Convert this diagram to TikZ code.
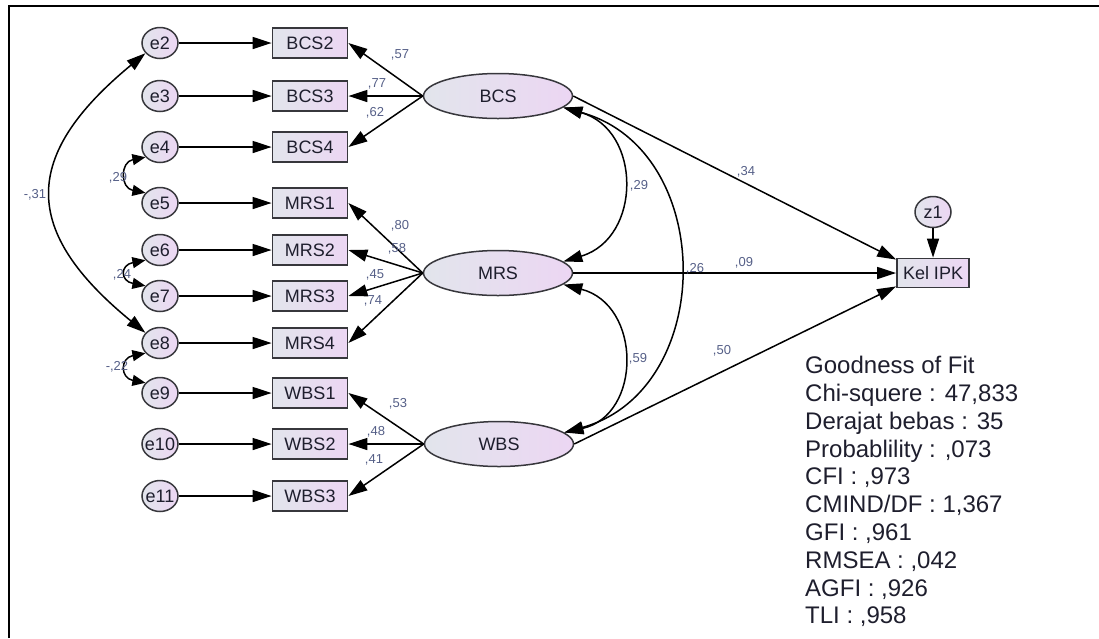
\documentclass[tikz,border=0pt]{standalone}
\usepackage{fontspec}
\setmainfont{Liberation Sans}
\usetikzlibrary{shapes, arrows, arrows.meta, calc, positioning}

\definecolor{fillleft}{RGB}{226,229,236}
\definecolor{fillright}{RGB}{236,214,243}
\definecolor{edgegray}{RGB}{55,55,60}
\definecolor{coefblue}{RGB}{85,95,135}
\definecolor{inktext}{RGB}{30,30,45}

\begin{document}
\begin{tikzpicture}[>={Triangle[length=19pt,width=12pt]}, x=1pt, y=-1pt]
	\tikzstyle{obs} = [draw=edgegray, line width=1.8pt, rectangle, minimum width=75pt, minimum height=30pt, inner sep=0pt, left color=fillleft, right color=fillright, text=inktext, font=\fontsize{18}{20}\selectfont]
	\tikzstyle{err} = [draw=edgegray, line width=1.5pt, ellipse, minimum width=36pt, minimum height=31pt, inner sep=-3pt, left color=fillleft, right color=fillright, text=inktext, font=\fontsize{18}{20}\selectfont]
	\tikzstyle{latent} = [draw=edgegray, line width=1.5pt, ellipse, minimum width=149pt, minimum height=45pt, left color=fillleft, right color=fillright, text=inktext, font=\fontsize{18}{20}\selectfont]
	\tikzstyle{coef} = [text=coefblue, font=\fontsize{13}{15}\selectfont, inner sep=1pt]
	\tikzstyle{link} = [line width=1.5pt, black]
	\tikzstyle{smallcov} = [line width=1.5pt, black, {Triangle[length=13pt,width=11pt]}-{Triangle[length=13pt,width=11pt]}]

	\useasboundingbox (0,0) rectangle (1099,638);
	\draw[line width=2pt] (9,638) -- (9,6) -- (1099,6);

	% indicators with their error terms
	\foreach \e/\v/\y in {2/BCS2/43, 3/BCS3/96, 4/BCS4/147, 5/MRS1/203, 6/MRS2/250, 7/MRS3/296, 8/MRS4/343, 9/WBS1/393, 10/WBS2/444, 11/WBS3/496}
	{
		\node[err] (e\e) at (160,\y) {e\e};
		\node[obs] (\v) at (310,\y) {\v};
		\draw[link, ->] (e\e) -- (\v);
	}

	% latent variables
	\node[latent] (BCS) at (498,96) {BCS};
	\node[latent] (MRS) at (498,273) {MRS};
	\node[latent] (WBS) at (499,444) {WBS};
	\node[obs, minimum width=72pt, minimum height=29pt] (KelIPK) at (933,273) {Kel IPK};
	\node[err] (z1) at (933,212) {z1};

	\foreach \v in {BCS2, BCS3, BCS4} \draw[link, ->] (BCS.west) -- (\v.east);
	\foreach \v in {MRS1, MRS2, MRS3, MRS4} \draw[link, ->] (MRS.west) -- (\v.east);
	\foreach \v in {WBS1, WBS2, WBS3} \draw[link, ->] (WBS.west) -- (\v.east);

	\draw[link, ->] (z1) -- (KelIPK);
	\draw[link, ->] (BCS.east) -- (KelIPK.160);
	\draw[link, ->] (MRS.east) -- (KelIPK.west);
	\draw[link, ->] (WBS.east) -- (KelIPK.200);

	% covariances
	\draw[link, <->] (e2.215) .. controls (21,156) and (21,231) .. (e8.145);
	\draw[smallcov] (e4.215) .. controls (120,162) and (120,188) .. (e5.145);
	\draw[smallcov] (e6.215) .. controls (120,265) and (120,281) .. (e7.145);
	\draw[smallcov] (e8.215) .. controls (120,358) and (120,378) .. (e9.145);
	\draw[link, <->] (BCS.-10) .. controls (642,130) and (642,238) .. (MRS.10);
	\draw[link, <->] (BCS.-10) .. controls (717,150) and (717,390) .. (WBS.10);
	\draw[link, <->] (MRS.-10) .. controls (642,305) and (642,415) .. (WBS.10);

	% estimates
	\node[coef] (c1) at (400,55) {,57};
	\node[coef] (c2) at (377,84) {,77};
	\node[coef] (c3) at (375,113) {,62};
	\node[coef] (c4) at (400,226) {,80};
	\node[coef] (c5) at (397,249) {,58};
	\node[coef] (c6) at (375,275) {,45};
	\node[coef] (c7) at (373,301) {,74};
	\node[coef] (c8) at (398,404) {,53};
	\node[coef] (c9) at (376,432) {,48};
	\node[coef] (c10) at (374,460) {,41};
	\node[coef] (r1) at (35,195) {-,31};
	\node[coef] (r2) at (118,178) {,29};
	\node[coef] (r3) at (122,275) {,24};
	\node[coef] (r4) at (117,367) {-,22};
	\node[coef] (r5) at (639,186) {,29};
	\node[coef] (r6) at (695,269) {,26};
	\node[coef] (r7) at (638,359) {,59};
	\node[coef] (b1) at (746,172) {,34};
	\node[coef] (b2) at (744,263) {,09};
	\node[coef] (b3) at (722,351) {,50};

	\node[anchor=north west, align=left, inner sep=0pt, text=inktext, font=\fontsize{24}{27.8}\selectfont] (fit) at (805,356)
		{Goodness of Fit\\Chi-squere : 47,833\\Derajat bebas : 35\\Probablility : ,073\\CFI : ,973\\CMIND/DF : 1,367\\GFI : ,961\\RMSEA : ,042\\AGFI : ,926\\TLI : ,958};
\end{tikzpicture}
\end{document}
